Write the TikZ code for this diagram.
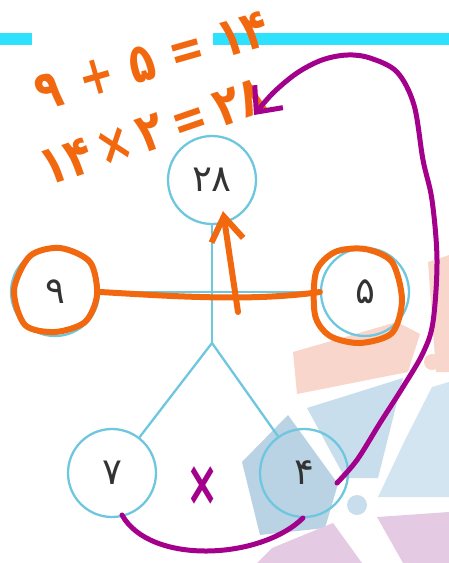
\documentclass[tikz,border=0pt]{standalone}
\usepackage{fontspec}
\usepackage{tikz}
\usetikzlibrary{positioning,arrows.meta}
\newfontfamily\fa{DejaVu Sans}
\definecolor{ringblue}{HTML}{6FC7DF}
\definecolor{barcyan}{HTML}{2EE2FF}
\definecolor{penorange}{HTML}{F2680F}
\definecolor{penpurple}{HTML}{A3008C}
\definecolor{inkgray}{HTML}{333333}
\definecolor{wmsalmon}{HTML}{F8D6CB}
\definecolor{wmblue}{HTML}{C9DEEC}
\definecolor{wmdeep}{HTML}{B9D2E4}
\definecolor{wmpale}{HTML}{D2E5F0}
\definecolor{wmlilac}{HTML}{E4CBE3}

\begin{document}
\begin{tikzpicture}[x=1pt, y=-1pt,
  num/.style={circle, draw=ringblue, line width=2.3pt, minimum size=88pt, inner sep=0pt, text=inkgray, font=\fa\fontsize{37}{38}\selectfont},
  stem/.style={draw=ringblue, line width=2.3pt},
  orangepen/.style={draw=penorange, line width=6pt, line cap=round, line join=round},
  purplepen/.style={draw=penpurple, line width=5pt, line cap=round, line join=round},
  scrawl/.style={text=penorange, font=\fa\bfseries\fontsize{42}{42}\selectfont, inner sep=0pt}]
\useasboundingbox (0,0) rectangle (449,563);
% logo watermark, bottom right
\fill[wmsalmon] (293,352) -- (397,322) -- (420,334) -- (408,372) -- (297,394) -- cycle;
\fill[wmsalmon] (428,262) -- (449,255) -- (449,372) -- (436,372) -- cycle;
\fill[wmsalmon] (432,362) circle (8);
\fill[wmblue] (307,408) -- (403,378) -- (378,478) -- (345,478) -- cycle;
\fill[wmdeep] (242,462) -- (288,415) -- (338,484) -- (325,528) -- (260,535) -- cycle;
\fill[wmpale] (432,387) -- (449,382) -- (449,497) -- (378,497) -- (405,440) -- cycle;
\fill[wmblue] (357,505) circle (10);
\fill[wmlilac] (377,517) -- (449,512) -- (449,563) -- (403,563) -- cycle;
\fill[wmlilac] (257,563) -- (272,548) -- (333,523) -- (362,563) -- cycle;
% header bar
\fill[barcyan] (0,33) rectangle (32,45);
\fill[barcyan] (213,33) rectangle (449,45);
% tree
\node[num] (m) at (212,180) {۲۸};
\node[num] (l) at (55,292) {۹};
\node[num] (r) at (365,292) {۵};
\node[num] (a) at (112,473) {۷};
\node[num] (b) at (304,473) {۴};
\coordinate (j) at (212,343);
\draw[stem] (m) -- (j);
\draw[stem] (l) -- (r);
\draw[stem] (j) -- (a);
\draw[stem] (j) -- (b);
% orange marks
\node[scrawl, rotate=16] (eq1) at (152,61) {\scalebox{1}[1.3]{۹\hspace{20pt}+\hspace{16pt}۵\hspace{16pt}=\hspace{16pt}۱۴}};
\node[scrawl, rotate=19] (eq2) at (153,132) {\scalebox{1}[1.3]{۱۴\hspace{8pt}×\hspace{8pt}۲\hspace{10pt}=\hspace{10pt}۲۸}};
\draw[orangepen] plot[smooth cycle] coordinates {(14,290) (30,256) (60,248) (90,262) (97,295) (85,322) (55,332) (25,325)};
\draw[orangepen] plot[smooth cycle] coordinates {(316,272) (335,252) (365,249) (392,262) (402,300) (392,333) (360,343) (330,336) (315,315)};
\draw[orangepen] (l.east) .. controls (170,296) and (250,302) .. (r.west);
\coordinate (up) at (238,312);
\draw[orangepen, -{Straight Barb[length=24pt,width=32pt]}] (up) -- ([shift={(11,-14)}]m.south);
% purple marks
\coordinate (bq) at ([shift={(33,10)}]b.center);
\coordinate (tip) at (254,115);
\draw[purplepen, -{Straight Barb[length=20pt,width=36pt]}] plot[smooth, tension=0.55] coordinates {(bq) (357,460) (380,423) (403,387) (423,353) (433,322) (437,260) (432,200) (423,160) (414,105) (397,72) (370,58) (347,55) (322,60) (297,73) (273,93) (tip)};
\draw[purplepen] ([shift={(10,42)}]a.center) .. controls (150,565) and (260,560) .. ([shift={(-1,45)}]b.center);
\node[text=penpurple, font=\fa\bfseries\fontsize{64}{64}\selectfont, inner sep=0pt] (x) at (203,486) {\scalebox{0.6}[1]{×}};
\end{tikzpicture}
\end{document}
